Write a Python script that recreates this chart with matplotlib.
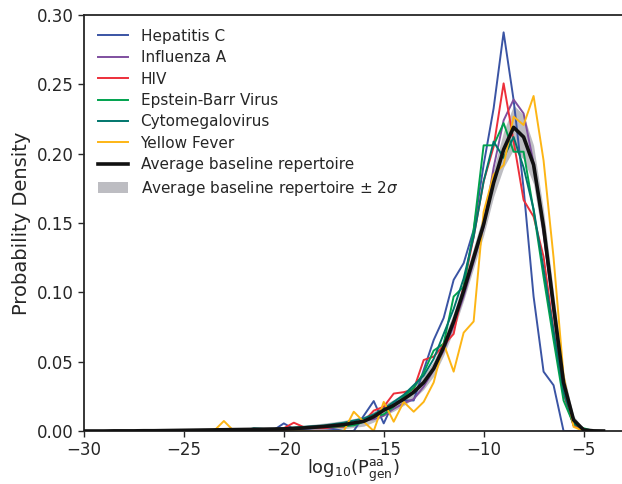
import numpy as np
import matplotlib
matplotlib.use('Agg')
import matplotlib.pyplot as plt

# bin centres of the log10(Pgen) histograms (0.5 wide bins)
bins = np.arange(-30, -3.75, 0.5)

hep_c = [0, 0, 0, 0, 0, 0, 0, 0, 0, 0,
         0, 0, 0, 0, 0, 0, 0.0007, 0.0007, 0.0014, 0.0007,
         0.0055, 0.0014, 0.0014, 0.002, 0.002, 0.0014, 0.0, 0.0, 0.011, 0.0216,
         0.0055, 0.021, 0.022, 0.022, 0.044, 0.0656, 0.0815, 0.109, 0.121, 0.145,
         0.192, 0.2327, 0.2875, 0.2387, 0.175, 0.097, 0.0428, 0.033, 0.0, 0.0,
         0, 0, 0]
influenza_a = [0, 0, 0, 0, 0, 0, 0, 0, 0, 0,
               0, 0, 0, 0, 0, 0.0003, 0.0005, 0.0007, 0.001, 0.0012,
               0.0014, 0.0016, 0.0018, 0.0022, 0.0025, 0.003, 0.0035, 0.0045, 0.0075, 0.0085,
               0.011, 0.016, 0.020, 0.023, 0.032, 0.044, 0.058, 0.076, 0.097, 0.122,
               0.147, 0.190, 0.224, 0.239, 0.229, 0.193, 0.143, 0.085, 0.027, 0.004,
               0.001, 0, 0]
hiv = [0, 0, 0, 0, 0, 0, 0, 0, 0, 0,
       0, 0, 0, 0, 0, 0, 0, 0.0007, 0.001, 0.0014,
       0.002, 0.006, 0.0028, 0.002, 0.002, 0.0028, 0.003, 0.0055, 0.0067, 0.0147,
       0.0175, 0.027, 0.028, 0.030, 0.0512, 0.0536, 0.062, 0.070, 0.105, 0.140,
       0.180, 0.205, 0.2507, 0.209, 0.1666, 0.1546, 0.1257, 0.0728, 0.0274, 0.004,
       0, 0, 0]
ebv = [0, 0, 0, 0, 0, 0, 0, 0, 0, 0,
       0, 0, 0, 0, 0, 0, 0, 0.0005, 0.001, 0.001,
       0.0015, 0.002, 0.002, 0.0025, 0.003, 0.003, 0.0035, 0.004, 0.0067, 0.0103,
       0.012, 0.0175, 0.025, 0.031, 0.042, 0.058, 0.063, 0.097, 0.104, 0.145,
       0.206, 0.206, 0.222, 0.2014, 0.2014, 0.159, 0.111, 0.0656, 0.022, 0.005,
       0.002, 0, 0]
cmv = [0, 0, 0, 0, 0, 0, 0, 0, 0, 0,
       0, 0, 0, 0, 0, 0, 0, 0.002, 0.0015, 0.0015,
       0.002, 0.0025, 0.003, 0.0035, 0.004, 0.005, 0.006, 0.0075, 0.009, 0.012,
       0.016, 0.021, 0.026, 0.033, 0.040, 0.052, 0.070, 0.088, 0.110, 0.140,
       0.180, 0.2087, 0.197, 0.212, 0.190, 0.160, 0.117, 0.072, 0.028, 0.006,
       0.001, 0, 0]
yellow_fever = [0, 0, 0, 0, 0, 0, 0, 0, 0, 0,
                0, 0, 0, 0, 0.0072, 0, 0, 0, 0, 0,
                0, 0, 0, 0, 0, 0, 0, 0.0139, 0.0067, 0.0,
                0.021, 0.0067, 0.021, 0.0139, 0.021, 0.035, 0.063, 0.0428, 0.0709, 0.079,
                0.158, 0.185, 0.1918, 0.2267, 0.2207, 0.2416, 0.195, 0.125, 0.04, 0.003,
                0, 0, 0]

# average baseline repertoire and its 2 sigma spread
baseline = [0.0, 0.0, 0.0, 0.0001, 0.0001, 0.0001, 0.0002, 0.0002, 0.0003, 0.0004,
            0.0005, 0.0006, 0.0007, 0.0008, 0.0009, 0.0010, 0.0011, 0.0012, 0.0013, 0.0014,
            0.0015, 0.0018, 0.0022, 0.0027, 0.0032, 0.0039, 0.0046, 0.0058, 0.0070, 0.0103,
            0.0150, 0.0185, 0.0230, 0.0280, 0.0350, 0.0450, 0.0605, 0.0790, 0.1010, 0.1250,
            0.1490, 0.1790, 0.2030, 0.2190, 0.2120, 0.1920, 0.1470, 0.0900, 0.0350, 0.0080,
            0.0008, 0.0001, 0.0]
two_sigma = [0.0002, 0.0002, 0.0002, 0.0003, 0.0003, 0.0003, 0.0004, 0.0004, 0.0005, 0.0005,
             0.0006, 0.0007, 0.0008, 0.0009, 0.0010, 0.0011, 0.0012, 0.0013, 0.0014, 0.0016,
             0.0018, 0.0019, 0.0020, 0.0022, 0.0025, 0.0027, 0.0030, 0.0032, 0.0035, 0.0038,
             0.0040, 0.0042, 0.0045, 0.0048, 0.0050, 0.0055, 0.0060, 0.0065, 0.0070, 0.0075,
             0.0080, 0.0100, 0.0130, 0.0160, 0.0160, 0.0140, 0.0120, 0.0100, 0.0070, 0.0030,
             0.0010, 0.0003, 0.0]

labels = ['Hepatitis C', 'Influenza A', 'HIV', 'Epstein-Barr Virus',
          'Cytomegalovirus', 'Yellow Fever']
colors = ['#3a54a4', '#7f4f9f', '#ed2f3a', '#00a24e', '#00766c', '#fdb515']
series = [hep_c, influenza_a, hiv, ebv, cmv, yellow_fever]

text_color = '#262626'
plt.rcParams['font.family'] = ['DejaVu Sans']
plt.rcParams['mathtext.fontset'] = 'dejavusans'

fig = plt.figure(figsize=(6.22, 4.84), dpi=100)
ax = fig.add_axes([84 / 622, 53 / 484, 539.5 / 622, 416 / 484])

base = np.array(baseline)
sig = np.array(two_sigma)
band = ax.fill_between(bins, base - sig, base + sig, color='#bdbdc2', lw=0, zorder=1,
                       label=r'Average baseline repertoire $\pm$ 2$\sigma$')
handles = []
for vals, lab, col in zip(series, labels, colors):
    ln, = ax.plot(bins, vals, color=col, lw=1.4, label=lab, zorder=2)
    handles.append(ln)
avg, = ax.plot(bins, baseline, color='#111111', lw=2.6, label='Average baseline repertoire', zorder=3)
handles += [avg, band]

ax.set_xlim(-30, -3)
ax.set_ylim(0, 0.30)
ax.set_yticks(np.arange(0, 0.31, 0.05))
ax.set_xlabel(r'$\mathrm{log}_{10}(\mathrm{P}_{\mathrm{gen}}^{\mathrm{aa}})$', fontsize=12.8,
              color=text_color, labelpad=-0.9)
ax.set_ylabel('Probability Density', fontsize=14, color=text_color)
ax.tick_params(labelsize=12, colors=text_color, direction='out', length=4, width=1)
ax.tick_params(top=False, right=False)
for s in ax.spines.values():
    s.set_color(text_color)
    s.set_linewidth(1.3)

leg = ax.legend(handles=handles, loc='upper left', frameon=False, fontsize=11,
                labelspacing=0.42)
for t in leg.get_texts():
    t.set_color(text_color)

fig.savefig('out.png', dpi=100)
